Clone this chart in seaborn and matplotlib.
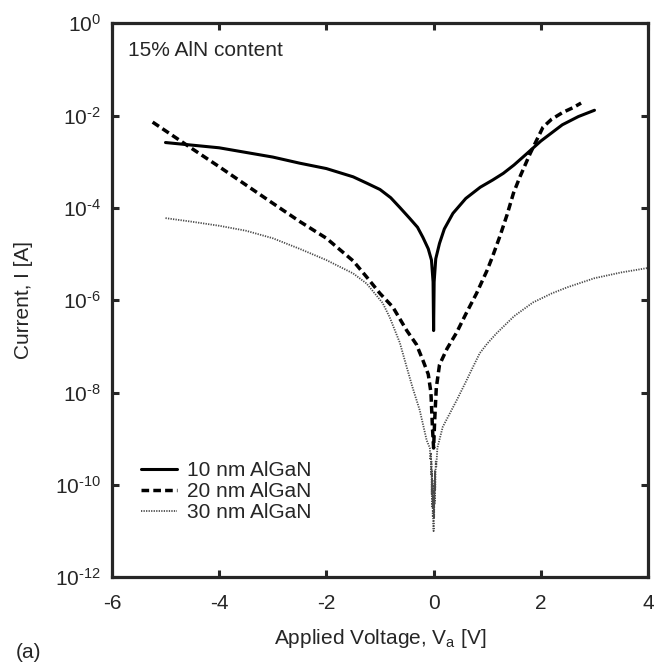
import numpy as np
import pandas as pd
import matplotlib
matplotlib.use("Agg")
import matplotlib.pyplot as plt
import seaborn as sns

# 10 nm AlGaN (solid)
v_10 = [-5.0, -4.0, -3.0, -2.5, -2.0, -1.5, -1.24, -1.0, -0.8, -0.63, -0.45, -0.3, -0.2, -0.1, -0.04, -0.01, 0.0,
        0.01, 0.04, 0.11, 0.2, 0.36, 0.6, 0.87, 1.1, 1.3, 1.5, 1.74, 2.0, 2.4, 2.7, 3.0]
i_10 = [2.6e-3, 2.0e-3, 1.26e-3, 9.3e-4, 7.1e-4, 4.7e-4, 3.4e-4, 2.5e-4, 1.66e-4, 1.02e-4, 6.0e-5, 3.8e-5, 2.3e-5, 1.3e-5, 7.4e-6, 2.5e-6, 2.2e-7,
        2.5e-6, 7.9e-6, 1.7e-5, 3.5e-5, 7.6e-5, 1.6e-4, 2.8e-4, 4.0e-4, 5.6e-4, 8.5e-4, 1.5e-3, 2.8e-3, 6.3e-3, 9.5e-3, 1.3e-2]

# 20 nm AlGaN (dashed)
v_20 = [-5.24, -4.5, -4.0, -3.0, -2.5, -2.0, -1.5, -1.25, -1.0, -0.76, -0.5, -0.32, -0.2, -0.1, -0.05, -0.02, 0.0,
        0.02, 0.05, 0.11, 0.25, 0.43, 0.6, 0.8, 1.0, 1.1, 1.24, 1.37, 1.49, 1.61, 1.8, 2.04, 2.2, 2.41, 2.6, 2.75]
i_20 = [7.2e-3, 1.9e-3, 7.8e-4, 1.26e-4, 5.1e-5, 2.2e-5, 7.1e-6, 3.2e-6, 1.4e-6, 7.1e-7, 2.2e-7, 1.1e-7, 5.0e-8, 2.5e-8, 1.0e-8, 1.6e-9, 6.3e-10,
        2.5e-9, 1.26e-8, 4.0e-8, 8.9e-8, 2.0e-7, 5.0e-7, 1.4e-6, 4.5e-6, 8.9e-6, 2.5e-5, 7.1e-5, 2.1e-4, 4.7e-4, 1.5e-3, 5.6e-3, 8.3e-3, 1.17e-2, 1.48e-2, 1.86e-2]

# 30 nm AlGaN (dotted)
v_30 = [-5.0, -4.5, -4.0, -3.5, -3.0, -2.5, -2.0, -1.5, -1.25, -0.95, -0.82, -0.63, -0.5, -0.39, -0.26, -0.13, -0.07,
        -0.06, -0.05, -0.045, -0.04, -0.035, -0.03, -0.025, -0.02, -0.015, -0.01, -0.005, 0.0,
        0.005, 0.01, 0.015, 0.02, 0.025, 0.03, 0.04, 0.05, 0.07, 0.17, 0.3, 0.43, 0.6, 0.73, 0.86, 1.0, 1.17,
        1.5, 1.85, 2.2, 2.49, 3.0, 3.5, 4.0]
i_30 = [6.0e-5, 5.0e-5, 4.1e-5, 3.2e-5, 2.2e-5, 1.3e-5, 7.4e-6, 3.8e-6, 2.3e-6, 8.7e-7, 4.3e-7, 1.2e-7, 3.5e-8, 1.26e-8, 4.2e-9, 9.3e-10, 6.3e-10,
        3.5e-10, 5.0e-10, 1.6e-10, 3.2e-10, 6.3e-11, 2.0e-10, 3.2e-11, 1.3e-10, 2.0e-11, 8.0e-11, 1.6e-11, 1.0e-11,
        5.0e-11, 2.0e-11, 1.0e-10, 4.0e-11, 2.0e-10, 8.0e-11, 3.2e-10, 2.5e-10, 6.3e-10, 1.8e-9, 3.5e-9, 6.8e-9, 1.7e-8, 3.5e-8, 7.1e-8, 1.15e-7, 1.9e-7,
        4.5e-7, 8.9e-7, 1.4e-6, 1.9e-6, 3.0e-6, 4.0e-6, 5.0e-6]

labels = ["10 nm AlGaN", "20 nm AlGaN", "30 nm AlGaN"]

sns.set_style("ticks")
plt.rcParams["font.family"] = ["Liberation Sans", "DejaVu Sans"]
plt.rcParams["mathtext.fontset"] = "custom"
plt.rcParams["mathtext.rm"] = "Liberation Sans"
plt.rcParams["mathtext.default"] = "regular"

fig = plt.figure(figsize=(6.62, 6.62), dpi=100)
ax = fig.add_axes([0.169, 0.128, 0.81, 0.837])

df = pd.concat([
    pd.DataFrame({"V": v_10, "I": i_10, "s": labels[0]}),
    pd.DataFrame({"V": v_20, "I": i_20, "s": labels[1]}),
    pd.DataFrame({"V": v_30, "I": i_30, "s": labels[2]}),
])

styles = {
    labels[0]: dict(color="black", lw=2.2, ls="-"),
    labels[1]: dict(color="black", lw=2.5, ls=(0, (2.2, 1.2))),
    labels[2]: dict(color="#4a4a4a", lw=1.3, ls=(0, (0.7, 0.7))),
}
for lab in labels:
    sub = df[df["s"] == lab]
    sns.lineplot(data=sub, x="V", y="I", ax=ax, estimator=None, sort=False,
                 label=lab, **styles[lab])

ax.set_yscale("log")
ax.set_xlim(-6, 4)
ax.set_ylim(1e-12, 1)
ax.set_xticks([-6, -4, -2, 0, 2, 4])
ax.set_xticklabels(["-6", "-4", "-2", "0", "2", "4"])
yt = [1e0, 1e-2, 1e-4, 1e-6, 1e-8, 1e-10, 1e-12]
ax.set_yticks(yt)
ax.set_yticklabels(["$10^{0}$", "$10^{\u20102}$", "$10^{\u20104}$", "$10^{\u20106}$",
                    "$10^{\u20108}$", "$10^{\u201010}$", "$10^{\u201012}$"])
ax.minorticks_off()
ax.tick_params(direction="in", length=5, width=2.2, top=True, right=True,
               labelsize=15)
ax.tick_params(axis="x", pad=12)
ax.tick_params(axis="y", pad=8)
for sp in ax.spines.values():
    sp.set_linewidth(2.3)

ax.set_xlabel("Applied Voltage, V$_a$ [V]", fontsize=15, labelpad=10)
ax.set_ylabel("Current, I [A]", fontsize=15, labelpad=16)
ax.text(0.03, 0.968, "15% AlN content", transform=ax.transAxes,
        fontsize=15, va="top", ha="left")
fig.text(0.024, 0.006, "(a)", fontsize=15)

ax.legend(loc="lower left", bbox_to_anchor=(0.02, 0.065), frameon=False,
          fontsize=15, handlelength=1.7, labelspacing=0.1, handletextpad=0.5)

fig.savefig("out.png", dpi=100)
